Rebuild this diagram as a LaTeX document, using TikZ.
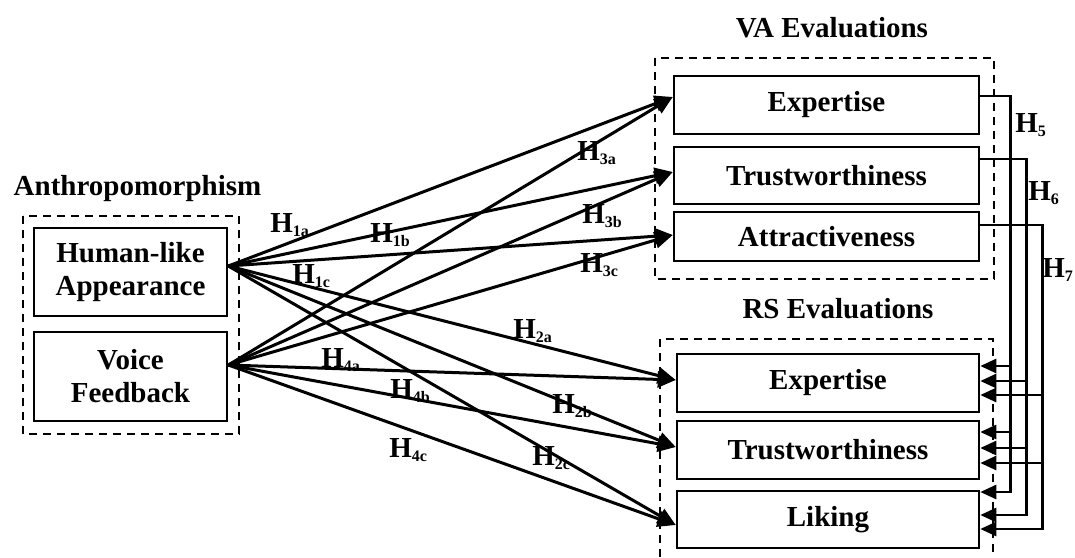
\documentclass[tikz,border=0pt]{standalone}
\usepackage{fontspec}
\setmainfont{Liberation Serif}
\usetikzlibrary{arrows.meta}
\newcommand{\hyp}[1]{H\raisebox{-2pt}{\fontsize{8}{8}\selectfont #1}}
\begin{document}
\begin{tikzpicture}[x=0.5pt,y=-0.5pt,
  txt/.style={font=\fontsize{14.5}{16.5}\selectfont\bfseries},
  box/.style={txt,draw,line width=1.3pt,inner sep=0pt,align=center},
  grp/.style={draw,line width=1pt,dash pattern=on 4pt off 3pt},
  arr/.style={line width=1.5pt,-{Triangle[length=9pt,width=8pt]}},
  rarr/.style={line width=1.3pt,{Triangle[length=8pt,width=7pt]}-},
  lab/.style={txt,anchor=base west,inner sep=0pt},
  ttl/.style={txt,anchor=base,inner sep=0pt}]
\useasboundingbox[fill=white] (0,0) rectangle (1075,557);
% group frames
\draw[grp] (23,216) rectangle (239,434);
\draw[grp] (655,58) rectangle (994,279);
\draw[grp] (660,557) -- (660,339) -- (993,339) -- (993,557);
% titles
\node[ttl] (tAnth) at (137.5,195) {Anthropomorphism};
\node[ttl] (tVA) at (832,37) {VA Evaluations};
\node[ttl] (tRS) at (838,318) {RS Evaluations};
% boxes
\node[box,minimum width=96.5pt,minimum height=44pt] (hum) at (130.5,272) {Human-like\\Appearance};
\node[box,minimum width=96.5pt,minimum height=44.5pt] (voi) at (130.5,376.5) {Voice\\Feedback};
\node[box,minimum width=152.5pt,minimum height=29pt] (vexp) at (826.5,105) {Expertise};
\node[box,minimum width=152.5pt,minimum height=28.5pt] (vtru) at (826.5,175.5) {Trustworthiness};
\node[box,minimum width=152.5pt,minimum height=24.5pt] (vatt) at (826.5,236.5) {Attractiveness};
\node[box,minimum width=151pt,minimum height=29pt] (rexp) at (828,383) {Expertise};
\node[box,minimum width=151pt,minimum height=29pt] (rtru) at (828,450) {Trustworthiness};
\node[box,minimum width=151pt,minimum height=28.5pt] (rlik) at (828,519.5) {Liking};
% left arrows
\draw[arr] ([yshift=3pt]hum.east) -- ([yshift=4pt]vexp.west);
\draw[arr] ([yshift=3pt]hum.east) -- ([yshift=1.75pt]vtru.west);
\draw[arr] ([yshift=3pt]hum.east) -- ([yshift=0.75pt]vatt.west);
\draw[arr] ([yshift=3pt]hum.east) -- ([yshift=1.5pt]rexp.west);
\draw[arr] ([yshift=3pt]hum.east) -- ([yshift=1.5pt]rtru.west);
\draw[arr] ([yshift=3pt]hum.east) -- ([yshift=-2.75pt]rlik.west);
\draw[arr] ([yshift=5.75pt]voi.east) -- ([yshift=4pt]vexp.west);
\draw[arr] ([yshift=5.75pt]voi.east) -- ([yshift=1.75pt]vtru.west);
\draw[arr] ([yshift=5.75pt]voi.east) -- ([yshift=0.75pt]vatt.west);
\draw[arr] ([yshift=5.75pt]voi.east) -- ([yshift=1.5pt]rexp.west);
\draw[arr] ([yshift=5.75pt]voi.east) -- ([yshift=1.5pt]rtru.west);
\draw[arr] ([yshift=5.75pt]voi.east) -- ([yshift=-2.75pt]rlik.west);
% right connectors
\draw[rarr] ([yshift=13.75pt]rlik.east) -- ++(30,0) |- ([yshift=4.5pt]vexp.east);
\draw[rarr] ([yshift=8.5pt]rexp.east) -- ++(30,0);
\draw[rarr] ([yshift=9pt]rtru.east) -- ++(30,0);
\draw[rarr] ([yshift=2.25pt]rlik.east) -- ++(46,0) |- ([yshift=8.25pt]vtru.east);
\draw[rarr] ([yshift=1pt]rexp.east) -- ++(46,0);
\draw[rarr] ([yshift=1pt]rtru.east) -- ++(46,0);
\draw[rarr] ([yshift=-4.75pt]rlik.east) -- ++(62,0) |- ([yshift=5.75pt]vatt.east);
\draw[rarr] ([yshift=-6pt]rexp.east) -- ++(62,0);
\draw[rarr] ([yshift=-6.5pt]rtru.east) -- ++(62,0);
% labels
\node[lab] (l1a) at (270,232) {\hyp{1a}};
\node[lab] (l1b) at (370,242) {\hyp{1b}};
\node[lab] (l1c) at (292,283) {\hyp{1c}};
\node[lab] (l2a) at (513,338) {\hyp{2a}};
\node[lab] (l2b) at (552,413) {\hyp{2b}};
\node[lab] (l2c) at (532,465) {\hyp{2c}};
\node[lab] (l3a) at (577,160) {\hyp{3a}};
\node[lab] (l3b) at (582,223) {\hyp{3b}};
\node[lab] (l3c) at (580,272) {\hyp{3c}};
\node[lab] (l4a) at (321,367) {\hyp{4a}};
\node[lab] (l4b) at (390,398) {\hyp{4b}};
\node[lab] (l4c) at (389,457) {\hyp{4c}};
\node[lab] (l5) at (1015,132) {\hyp{5}};
\node[lab] (l6) at (1028,200) {\hyp{6}};
\node[lab] (l7) at (1042,277) {\hyp{7}};
\end{tikzpicture}
\end{document}
